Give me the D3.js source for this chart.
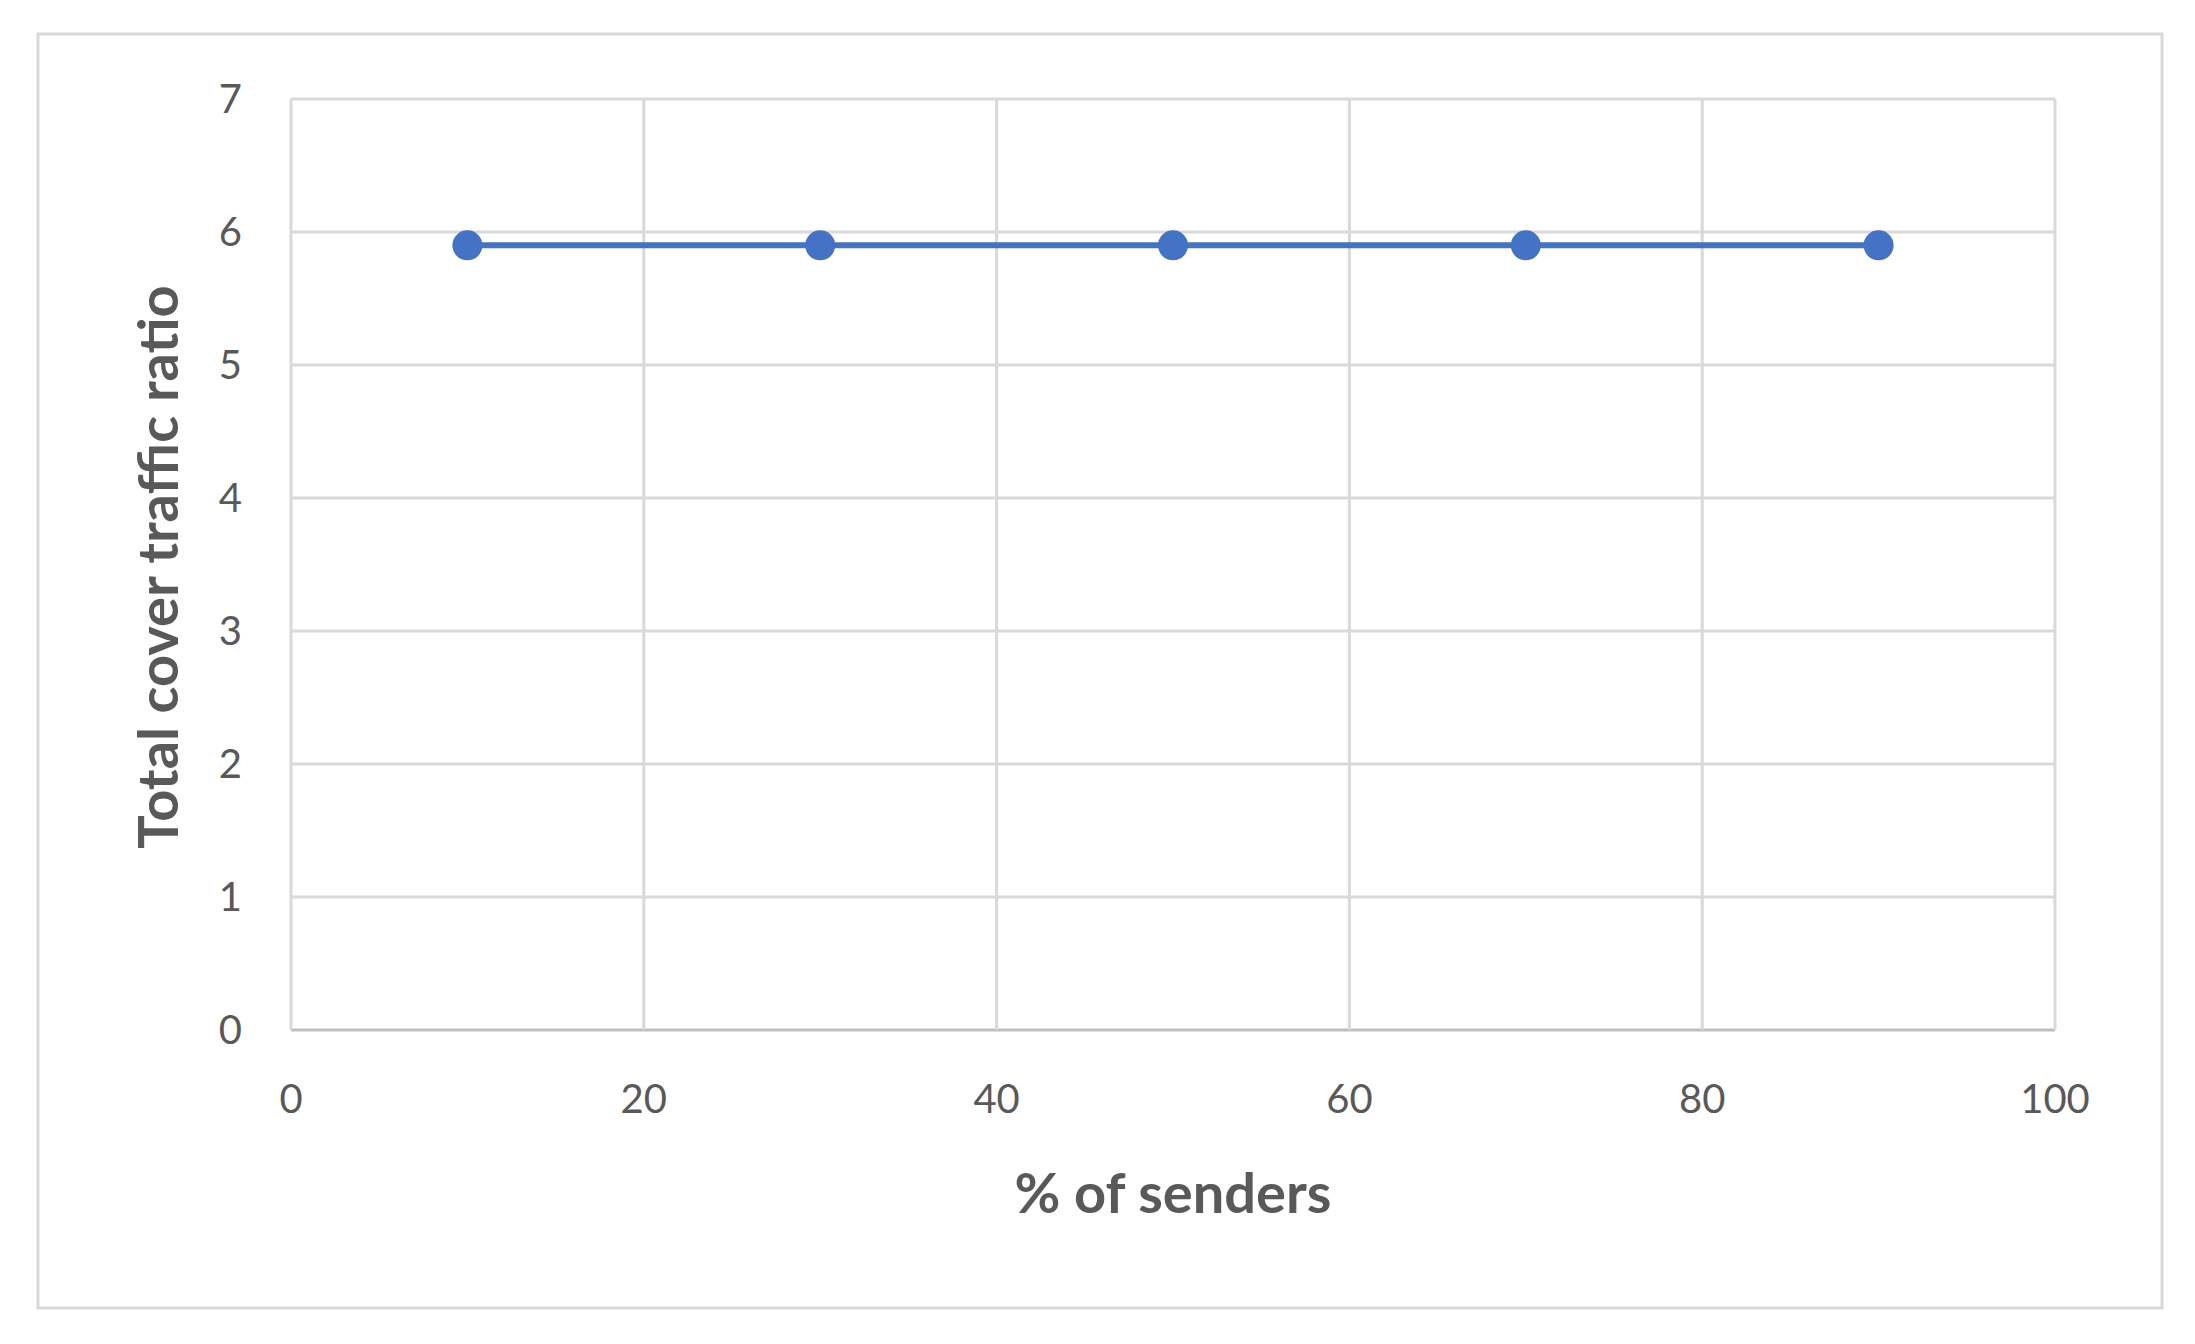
<!DOCTYPE html>
<html><head><meta charset="utf-8">
<script src="https://cdn.jsdelivr.net/npm/d3@7"></script>
<style>body{margin:0;background:#fff}text{font-family:Lato,"Open Sans",sans-serif}</style>
</head><body><svg width="2195" height="1344"></svg>
<script>
const xVals = [10, 30, 50, 70, 90];
const yVals = [5.9, 5.9, 5.9, 5.9, 5.9];
const xTicks = [0, 20, 40, 60, 80, 100];
const yTicks = [0, 1, 2, 3, 4, 5, 6, 7];

const svg = d3.select('svg');
svg.append('rect').attr('x',38).attr('y',34).attr('width',2124).attr('height',1274)
   .attr('fill','#fff').attr('stroke','#d9d9d9').attr('stroke-width',3);

const L=291, R=2055, T=99, B=1030;
const x = d3.scaleLinear().domain([0,100]).range([L,R]);
const y = d3.scaleLinear().domain([0,7]).range([B,T]);

svg.append('g').selectAll('line').data(yTicks).enter().append('line')
   .attr('x1',L).attr('x2',R).attr('y1',d=>y(d)).attr('y2',d=>y(d))
   .attr('stroke',d=>d==0?'#bfbfbf':'#d9d9d9').attr('stroke-width',3);
svg.append('g').selectAll('line').data(xTicks).enter().append('line')
   .attr('y1',T).attr('y2',B).attr('x1',d=>x(d)).attr('x2',d=>x(d))
   .attr('stroke','#d9d9d9').attr('stroke-width',3);

svg.append('g').selectAll('text').data(yTicks).enter().append('text')
   .attr('x',242).attr('y',d=>y(d)).attr('dy','0.35em').attr('text-anchor','end')
   .attr('font-size',40).attr('fill','#595959').text(d=>d);
svg.append('g').selectAll('text').data(xTicks).enter().append('text')
   .attr('x',d=>x(d)).attr('y',1099).attr('dy','0.35em').attr('text-anchor','middle')
   .attr('font-size',40).attr('fill','#595959').text(d=>d);

const pts = xVals.map((v,i)=>[v,yVals[i]]);
svg.append('path').datum(pts)
   .attr('d',d3.line().x(d=>x(d[0])).y(d=>y(d[1])))
   .attr('fill','none').attr('stroke','#4472c4').attr('stroke-width',6);
svg.append('g').selectAll('circle').data(pts).enter().append('circle')
   .attr('cx',d=>x(d[0])).attr('cy',d=>y(d[1])).attr('r',15).attr('fill','#4472c4');

svg.append('text').attr('x',1173).attr('y',1193).attr('dy','0.35em').attr('text-anchor','middle')
   .attr('font-size',56).attr('font-weight','bold').attr('fill','#595959').text('% of senders');
svg.append('text').attr('transform','translate(158,567) rotate(-90)').attr('dy','0.35em')
   .attr('text-anchor','middle').attr('font-size',56).attr('font-weight','bold')
   .attr('fill','#595959').text('Total cover traffic ratio');
</script></body></html>
